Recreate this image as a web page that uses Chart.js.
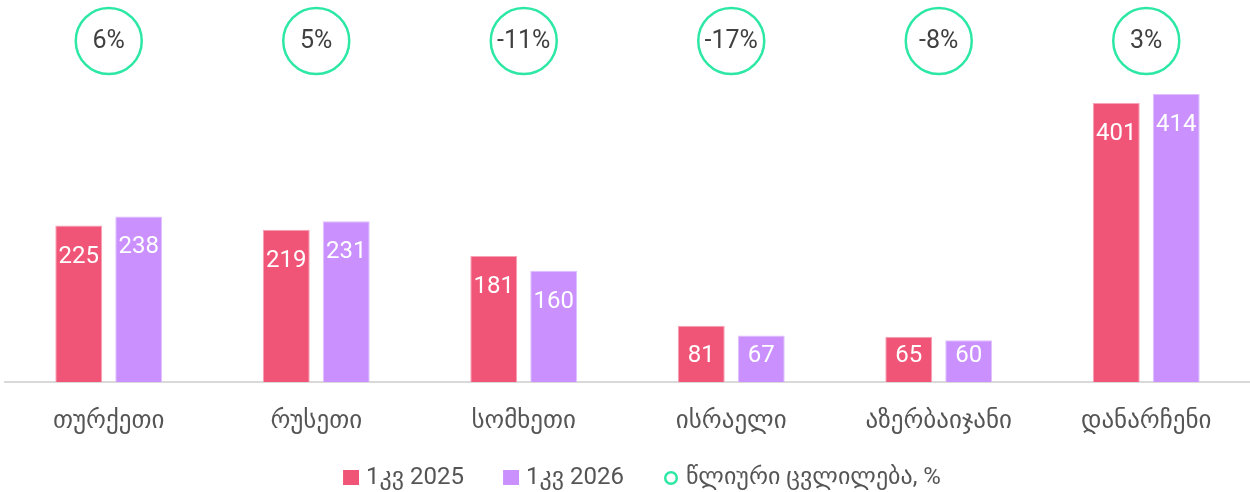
<!DOCTYPE html>
<html>
<head>
<meta charset="utf-8">
<script src="https://cdn.jsdelivr.net/npm/chart.js@4.4.1/dist/chart.umd.min.js"></script>
<style>
  html, body { margin: 0; padding: 0; background: #ffffff; }
  #wrap { width: 1250px; height: 492px; position: relative; }
</style>
</head>
<body>
<div id="wrap"><canvas id="c"></canvas></div>
<script>
const categories = ['თურქეთი', 'რუსეთი', 'სომხეთი', 'ისრაელი', 'აზერბაიჯანი', 'დანარჩენი'];
const q2025 = [225, 219, 181, 81, 65, 401];
const q2026 = [238, 231, 160, 67, 60, 414];
const yearlyChange = [6, 5, -11, -17, -8, 3];
const seriesLabels = ['1კვ 2025', '1კვ 2026', 'წლიური ცვლილება, %'];

const FONT = 'Roboto, "DejaVu Sans", sans-serif';
const PINK = '#f05577';
const PURPLE = '#c990fe';
const GREEN = '#2de8a4';
const TEXT = '#555555';
const ICON_W = 40;

function makeIcon(kind, color) {
  const cv = document.createElement('canvas');
  cv.width = ICON_W + 10; cv.height = 16;
  const g = cv.getContext('2d');
  if (kind === 'rect') {
    g.fillStyle = color;
    g.fillRect(cv.width - 16, 0, 16, 15);
  } else {
    g.strokeStyle = color;
    g.lineWidth = 2.5;
    g.beginPath();
    g.arc(cv.width - 8, 8, 5.8, 0, Math.PI * 2);
    g.stroke();
  }
  return cv;
}

const barLabels = {
  id: 'barLabels',
  afterDatasetsDraw(chart) {
    const ctx = chart.ctx;
    ctx.save();
    ctx.font = '24px ' + FONT;
    ctx.fillStyle = '#ffffff';
    ctx.textAlign = 'center';
    ctx.textBaseline = 'middle';
    [0, 1].forEach(di => {
      const meta = chart.getDatasetMeta(di);
      const data = chart.data.datasets[di].data;
      meta.data.forEach((el, i) => {
        const y = Math.min(el.y + 30, el.base - 27);
        ctx.fillText(String(data[i]), el.x, y + 1);
      });
    });
    ctx.restore();
  }
};

const changeCircles = {
  id: 'changeCircles',
  afterDraw(chart) {
    const ctx = chart.ctx;
    const xs = chart.scales.x;
    ctx.save();
    yearlyChange.forEach((v, i) => {
      const x = xs.getPixelForValue(i);
      const cy = 41;
      ctx.beginPath();
      ctx.arc(x, cy, 33, 0, Math.PI * 2);
      ctx.lineWidth = 2.5;
      ctx.strokeStyle = GREEN;
      ctx.stroke();
      ctx.font = '25px ' + FONT;
      ctx.fillStyle = '#404040';
      ctx.textAlign = 'center';
      ctx.textBaseline = 'middle';
      ctx.fillText(v + '%', x, cy + 1);
    });
    ctx.restore();
  }
};

new Chart(document.getElementById('c'), {
  type: 'bar',
  data: {
    labels: categories,
    datasets: [
      {
        label: seriesLabels[0], data: q2025,
        backgroundColor: PINK, borderColor: '#f8a3b6', borderWidth: 1,
        categoryPercentage: 0.578, barPercentage: 0.783,
        pointStyle: makeIcon('rect', PINK)
      },
      {
        label: seriesLabels[1], data: q2026,
        backgroundColor: PURPLE, borderColor: '#e0c0ff', borderWidth: 1,
        categoryPercentage: 0.578, barPercentage: 0.783,
        pointStyle: makeIcon('rect', PURPLE)
      },
      {
        type: 'line', label: seriesLabels[2], data: [],
        borderColor: GREEN, backgroundColor: '#ffffff',
        pointStyle: makeIcon('circle', GREEN)
      }
    ]
  },
  options: {
    responsive: true,
    maintainAspectRatio: false,
    animation: false,
    layout: { padding: { top: 85, left: 5, right: 0, bottom: -8 } },
    scales: {
      x: {
        grid: { display: false, drawTicks: false },
        border: { display: true, color: '#d9d9d9', width: 2 },
        ticks: { color: TEXT, font: { family: FONT, size: 25 }, padding: 25 },
        afterFit(scale) { scale.height = 74; }
      },
      y: {
        display: false,
        min: 0, max: 427
      }
    },
    plugins: {
      legend: {
        position: 'bottom',
        labels: {
          usePointStyle: true,
          pointStyleWidth: ICON_W,
          color: TEXT,
          font: { family: FONT, size: 24 },
          padding: 10
        }
      },
      tooltip: { enabled: false }
    }
  },
  plugins: [barLabels, changeCircles]
});
</script>
</body>
</html>
